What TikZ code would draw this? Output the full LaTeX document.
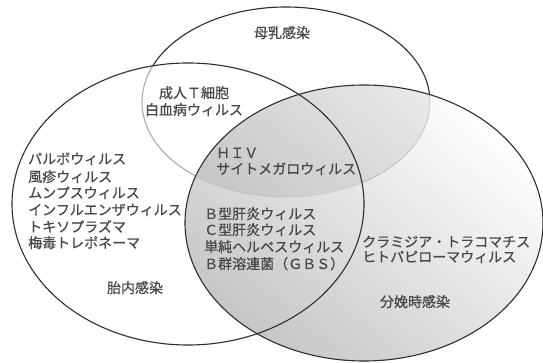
\documentclass[tikz,border=0pt]{standalone}
\usepackage{fontspec}
\newfontfamily\jp[FakeBold=0.6]{Noto Sans CJK JP}
\begin{document}
\begin{tikzpicture}[x=1pt,y=-1pt,
  ring/.style={draw=black!82, line width=1.1pt},
  lbl/.style={font=\jp\fontsize{14}{16.8}\selectfont, text=black!72, inner sep=0pt},
  lw/.style={lbl, anchor=base west},
  lc/.style={lbl, anchor=base},
]
\useasboundingbox (0,0) rectangle (543,363);
\fill[white] (0,0) rectangle (543,363);
% ellipse geometry
\coordinate (ctop) at (286,102);
\coordinate (cleft) at (188,204);
\coordinate (cright) at (364,223);
% top ellipse (breast milk)
\draw[ring] (ctop) ellipse [x radius=144, y radius=95];
% left ellipse fill (whitens top ellipse line inside)
\fill[white, fill opacity=0.6] (cleft) ellipse [x radius=176, y radius=141];
% right ellipse gradient fill
\shade[top color=white, bottom color=black!26, shading angle=-40, opacity=0.85]
  (cright) ellipse [x radius=179, y radius=138];
\begin{scope}
  \clip (ctop) ellipse [x radius=144, y radius=95];
  \fill[black, opacity=0.07] (cright) ellipse [x radius=179, y radius=138];
\end{scope}
% outlines
\draw[ring] (cleft) ellipse [x radius=176, y radius=141];
\draw[ring] (cright) ellipse [x radius=179, y radius=138];
% labels
\node[lc] (milk) at (282,38) {母乳感染};
\node[lc] (womb) at (135,293) {胎内感染};
\node[lc] (birth) at (415,307) {分娩時感染};
\node[lc] (atl1) at (194,98) {成人Ｔ細胞};
\node[lc] (atl2) at (194,115) {白血病ウィルス};
\node[lw] (hiv1) at (216,158) {ＨＩＶ};
\node[lw] (hiv2) at (216,174) {サイトメガロウィルス};
\node[lw] (w1) at (28,164) {パルボウィルス};
\node[lw] (w2) at (28,182) {風疹ウィルス};
\node[lw] (w3) at (28,198) {ムンプスウィルス};
\node[lw] (w4) at (28,215) {インフルエンザウィルス};
\node[lw] (w5) at (28,232) {トキソプラズマ};
\node[lw] (w6) at (28,248) {梅毒トレポネーマ};
\node[lw] (b1) at (204,219) {Ｂ型肝炎ウィルス};
\node[lw] (b2) at (204,235) {Ｃ型肝炎ウィルス};
\node[lw] (b3) at (204,252) {単純ヘルペスウィルス};
\node[lw] (b4) at (204,269) {Ｂ群溶連菌（ＧＢＳ）};
\node[lw] (r1) at (362,247) {クラミジア・トラコマチス};
\node[lw] (r2) at (362,262) {ヒトパピローマウィルス};
\end{tikzpicture}
\end{document}
